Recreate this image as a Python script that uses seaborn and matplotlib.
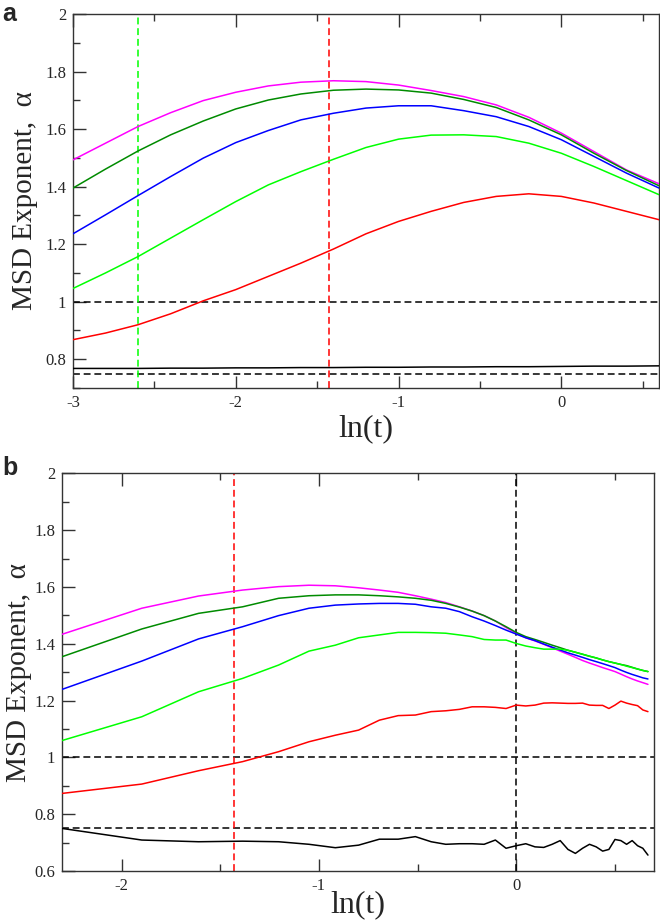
import numpy as np
import pandas as pd
import matplotlib
matplotlib.use("Agg")
import matplotlib.pyplot as plt
from matplotlib.ticker import MultipleLocator, FormatStrFormatter
import seaborn as sns

# ---- panel a: smooth curves, ln(t) from -3 to 0.6
lnt_a = [-3.0, -2.8, -2.6, -2.4, -2.2, -2.0, -1.8, -1.6, -1.4, -1.2,
         -1.0, -0.8, -0.6, -0.4, -0.2, 0.0, 0.2, 0.4, 0.6]
a_magenta = [1.493, 1.551, 1.609, 1.657, 1.699, 1.728, 1.750, 1.763, 1.768, 1.765,
             1.753, 1.734, 1.713, 1.684, 1.641, 1.586, 1.522, 1.458, 1.410]
a_dgreen = [1.395, 1.461, 1.524, 1.580, 1.628, 1.670, 1.701, 1.722, 1.735, 1.739,
            1.736, 1.725, 1.703, 1.675, 1.632, 1.580, 1.516, 1.456, 1.403]
a_blue = [1.236, 1.302, 1.369, 1.435, 1.499, 1.553, 1.595, 1.632, 1.655, 1.673,
          1.681, 1.681, 1.664, 1.643, 1.609, 1.563, 1.505, 1.447, 1.395]
a_green = [1.046, 1.100, 1.157, 1.221, 1.285, 1.348, 1.406, 1.452, 1.495, 1.536,
           1.565, 1.579, 1.580, 1.574, 1.551, 1.516, 1.470, 1.421, 1.372]
a_red = [0.868, 0.891, 0.920, 0.958, 1.003, 1.042, 1.088, 1.134, 1.183, 1.236,
         1.279, 1.314, 1.345, 1.366, 1.375, 1.366, 1.343, 1.314, 1.285]
a_black = [0.768, 0.768, 0.768, 0.769, 0.769, 0.770, 0.770, 0.771, 0.771, 0.772,
           0.772, 0.773, 0.773, 0.774, 0.774, 0.775, 0.776, 0.776, 0.777]

# ---- panel b: data every 0.05 in t
t_b = [0.10, 0.15, 0.20, 0.25, 0.30, 0.35, 0.40, 0.45, 0.50, 0.55,
       0.60, 0.65, 0.70, 0.75, 0.80, 0.85, 0.90, 0.95, 1.00, 1.05,
       1.10, 1.15, 1.20, 1.25, 1.30, 1.35, 1.40, 1.45, 1.50, 1.55,
       1.60, 1.65, 1.70, 1.75, 1.80, 1.85, 1.90, 1.95]
b_magenta = [1.433, 1.525, 1.568, 1.589, 1.601, 1.606, 1.604, 1.597, 1.589, 1.581,
             1.569, 1.557, 1.545, 1.530, 1.515, 1.499, 1.480, 1.457, 1.437, 1.421,
             1.410, 1.398, 1.386, 1.374, 1.363, 1.352, 1.341, 1.332, 1.324, 1.316,
             1.309, 1.302, 1.293, 1.284, 1.276, 1.269, 1.263, 1.257]
b_dgreen = [1.354, 1.452, 1.507, 1.530, 1.560, 1.569, 1.572, 1.572, 1.569, 1.565,
            1.560, 1.553, 1.542, 1.529, 1.515, 1.499, 1.480, 1.460, 1.440, 1.425,
            1.415, 1.405, 1.395, 1.386, 1.377, 1.370, 1.363, 1.356, 1.350, 1.343,
            1.337, 1.332, 1.327, 1.323, 1.317, 1.311, 1.306, 1.302]
b_blue = [1.239, 1.339, 1.417, 1.460, 1.499, 1.525, 1.536, 1.540, 1.542, 1.542,
          1.539, 1.530, 1.525, 1.513, 1.495, 1.480, 1.464, 1.448, 1.434, 1.421,
          1.411, 1.399, 1.388, 1.378, 1.368, 1.360, 1.352, 1.344, 1.337, 1.330,
          1.323, 1.316, 1.307, 1.299, 1.292, 1.286, 1.280, 1.276]
b_green = [1.059, 1.143, 1.231, 1.278, 1.325, 1.374, 1.395, 1.421, 1.431, 1.440,
           1.440, 1.439, 1.437, 1.431, 1.425, 1.415, 1.413, 1.413, 1.401, 1.392,
           1.386, 1.381, 1.381, 1.381, 1.377, 1.370, 1.363, 1.356, 1.350, 1.343,
           1.337, 1.332, 1.327, 1.321, 1.316, 1.311, 1.306, 1.302]
b_red = [0.873, 0.906, 0.953, 0.985, 1.020, 1.055, 1.078, 1.096, 1.131, 1.147,
         1.149, 1.161, 1.164, 1.169, 1.178, 1.178, 1.176, 1.172, 1.184, 1.181,
         1.184, 1.191, 1.192, 1.191, 1.190, 1.190, 1.191, 1.184, 1.183, 1.183,
         1.172, 1.184, 1.198, 1.191, 1.186, 1.182, 1.167, 1.161]
b_black = [0.750, 0.709, 0.703, 0.705, 0.703, 0.694, 0.682, 0.691, 0.712, 0.712,
           0.721, 0.703, 0.694, 0.696, 0.696, 0.694, 0.709, 0.680, 0.689, 0.696,
           0.685, 0.683, 0.694, 0.707, 0.676, 0.662, 0.680, 0.694, 0.685, 0.670,
           0.676, 0.711, 0.707, 0.694, 0.707, 0.689, 0.680, 0.656]

series_names = ["magenta", "dgreen", "blue", "green", "red", "black"]
colors = ["#ff00ff", "#008b00", "#0000ff", "#00ff00", "#ff0000", "#000000"]

sns.set_style("ticks")
plt.rcParams["font.family"] = ["Liberation Serif", "DejaVu Serif"]
plt.rcParams["axes.unicode_minus"] = False

df_a = pd.DataFrame({"lnt": lnt_a * 6,
                     "alpha": a_magenta + a_dgreen + a_blue + a_green + a_red + a_black,
                     "series": sum([[s] * len(lnt_a) for s in series_names], [])})
lnt_b = list(np.log(t_b))
df_b = pd.DataFrame({"lnt": lnt_b * 6,
                     "alpha": b_magenta + b_dgreen + b_blue + b_green + b_red + b_black,
                     "series": sum([[s] * len(t_b) for s in series_names], [])})

fig = plt.figure(figsize=(6.6, 9.21), dpi=100)
ax_a = fig.add_axes([73 / 660, 1 - 388 / 921, 586 / 660, 374 / 921])
ax_b = fig.add_axes([62.3 / 660, 1 - 871 / 921, 592 / 660, 397.7 / 921])

dash = (0, (4.5, 2.5))
for ax, df in [(ax_a, df_a), (ax_b, df_b)]:
    sns.lineplot(data=df, x="lnt", y="alpha", hue="series", hue_order=series_names,
                 palette=colors, linewidth=1.1, legend=False, ax=ax, zorder=3)
    ax.axhline(1.0, color="black", lw=1.1, ls=dash, zorder=2)
    ax.axhline(0.75, color="black", lw=1.1, ls=dash, zorder=2)

ax_a.axvline(-2.6, color="#00ff00", lw=1.1, ls=dash, zorder=2)
ax_a.axvline(-1.43, color="#ff0000", lw=1.1, ls=dash, zorder=2)
ax_b.axvline(-1.43, color="#ff0000", lw=1.1, ls=dash, zorder=2)
ax_b.axvline(0.0, color="black", lw=1.1, ls=dash, zorder=2)

ax_a.set_xlim(-3, 0.6)
ax_a.set_ylim(0.7, 2.0)
ax_b.set_xlim(-2.3, 0.7)
ax_b.set_ylim(0.6, 2.0)

for ax in (ax_a, ax_b):
    ax.xaxis.set_major_locator(MultipleLocator(1))
    ax.xaxis.set_minor_locator(MultipleLocator(0.5))
    ax.yaxis.set_major_locator(MultipleLocator(0.2))
    ax.yaxis.set_minor_locator(MultipleLocator(0.1))
    ax.xaxis.set_major_formatter(FormatStrFormatter("%g"))
    ax.yaxis.set_major_formatter(FormatStrFormatter("%g"))
    ax.tick_params(which="both", direction="in", top=True, right=False,
                   color="#333333", width=1.0, labelsize=12, pad=5)
    ax.tick_params(which="major", length=9)
    ax.tick_params(which="minor", length=5)
    for sp in ax.spines.values():
        sp.set_color("#333333")
        sp.set_linewidth(1.0)
    ax.set_ylabel("MSD Exponent,  α", fontsize=21)

ax_a.set_xlabel("ln(t)", fontsize=23, labelpad=2)
ax_b.set_xlabel("ln(t)", fontsize=23, labelpad=-3)
ax_a.yaxis.set_label_coords(-0.06, 0.5)
ax_b.yaxis.set_label_coords(-0.052, 0.5)

fig.text(0.003, 0.998, "a", fontsize=18, fontweight="bold", va="top",
         family="Liberation Sans")
fig.text(0.003, 1 - 456 / 921, "b", fontsize=18, fontweight="bold", va="top",
         family="Liberation Sans")

fig.savefig("out.png", dpi=100)
